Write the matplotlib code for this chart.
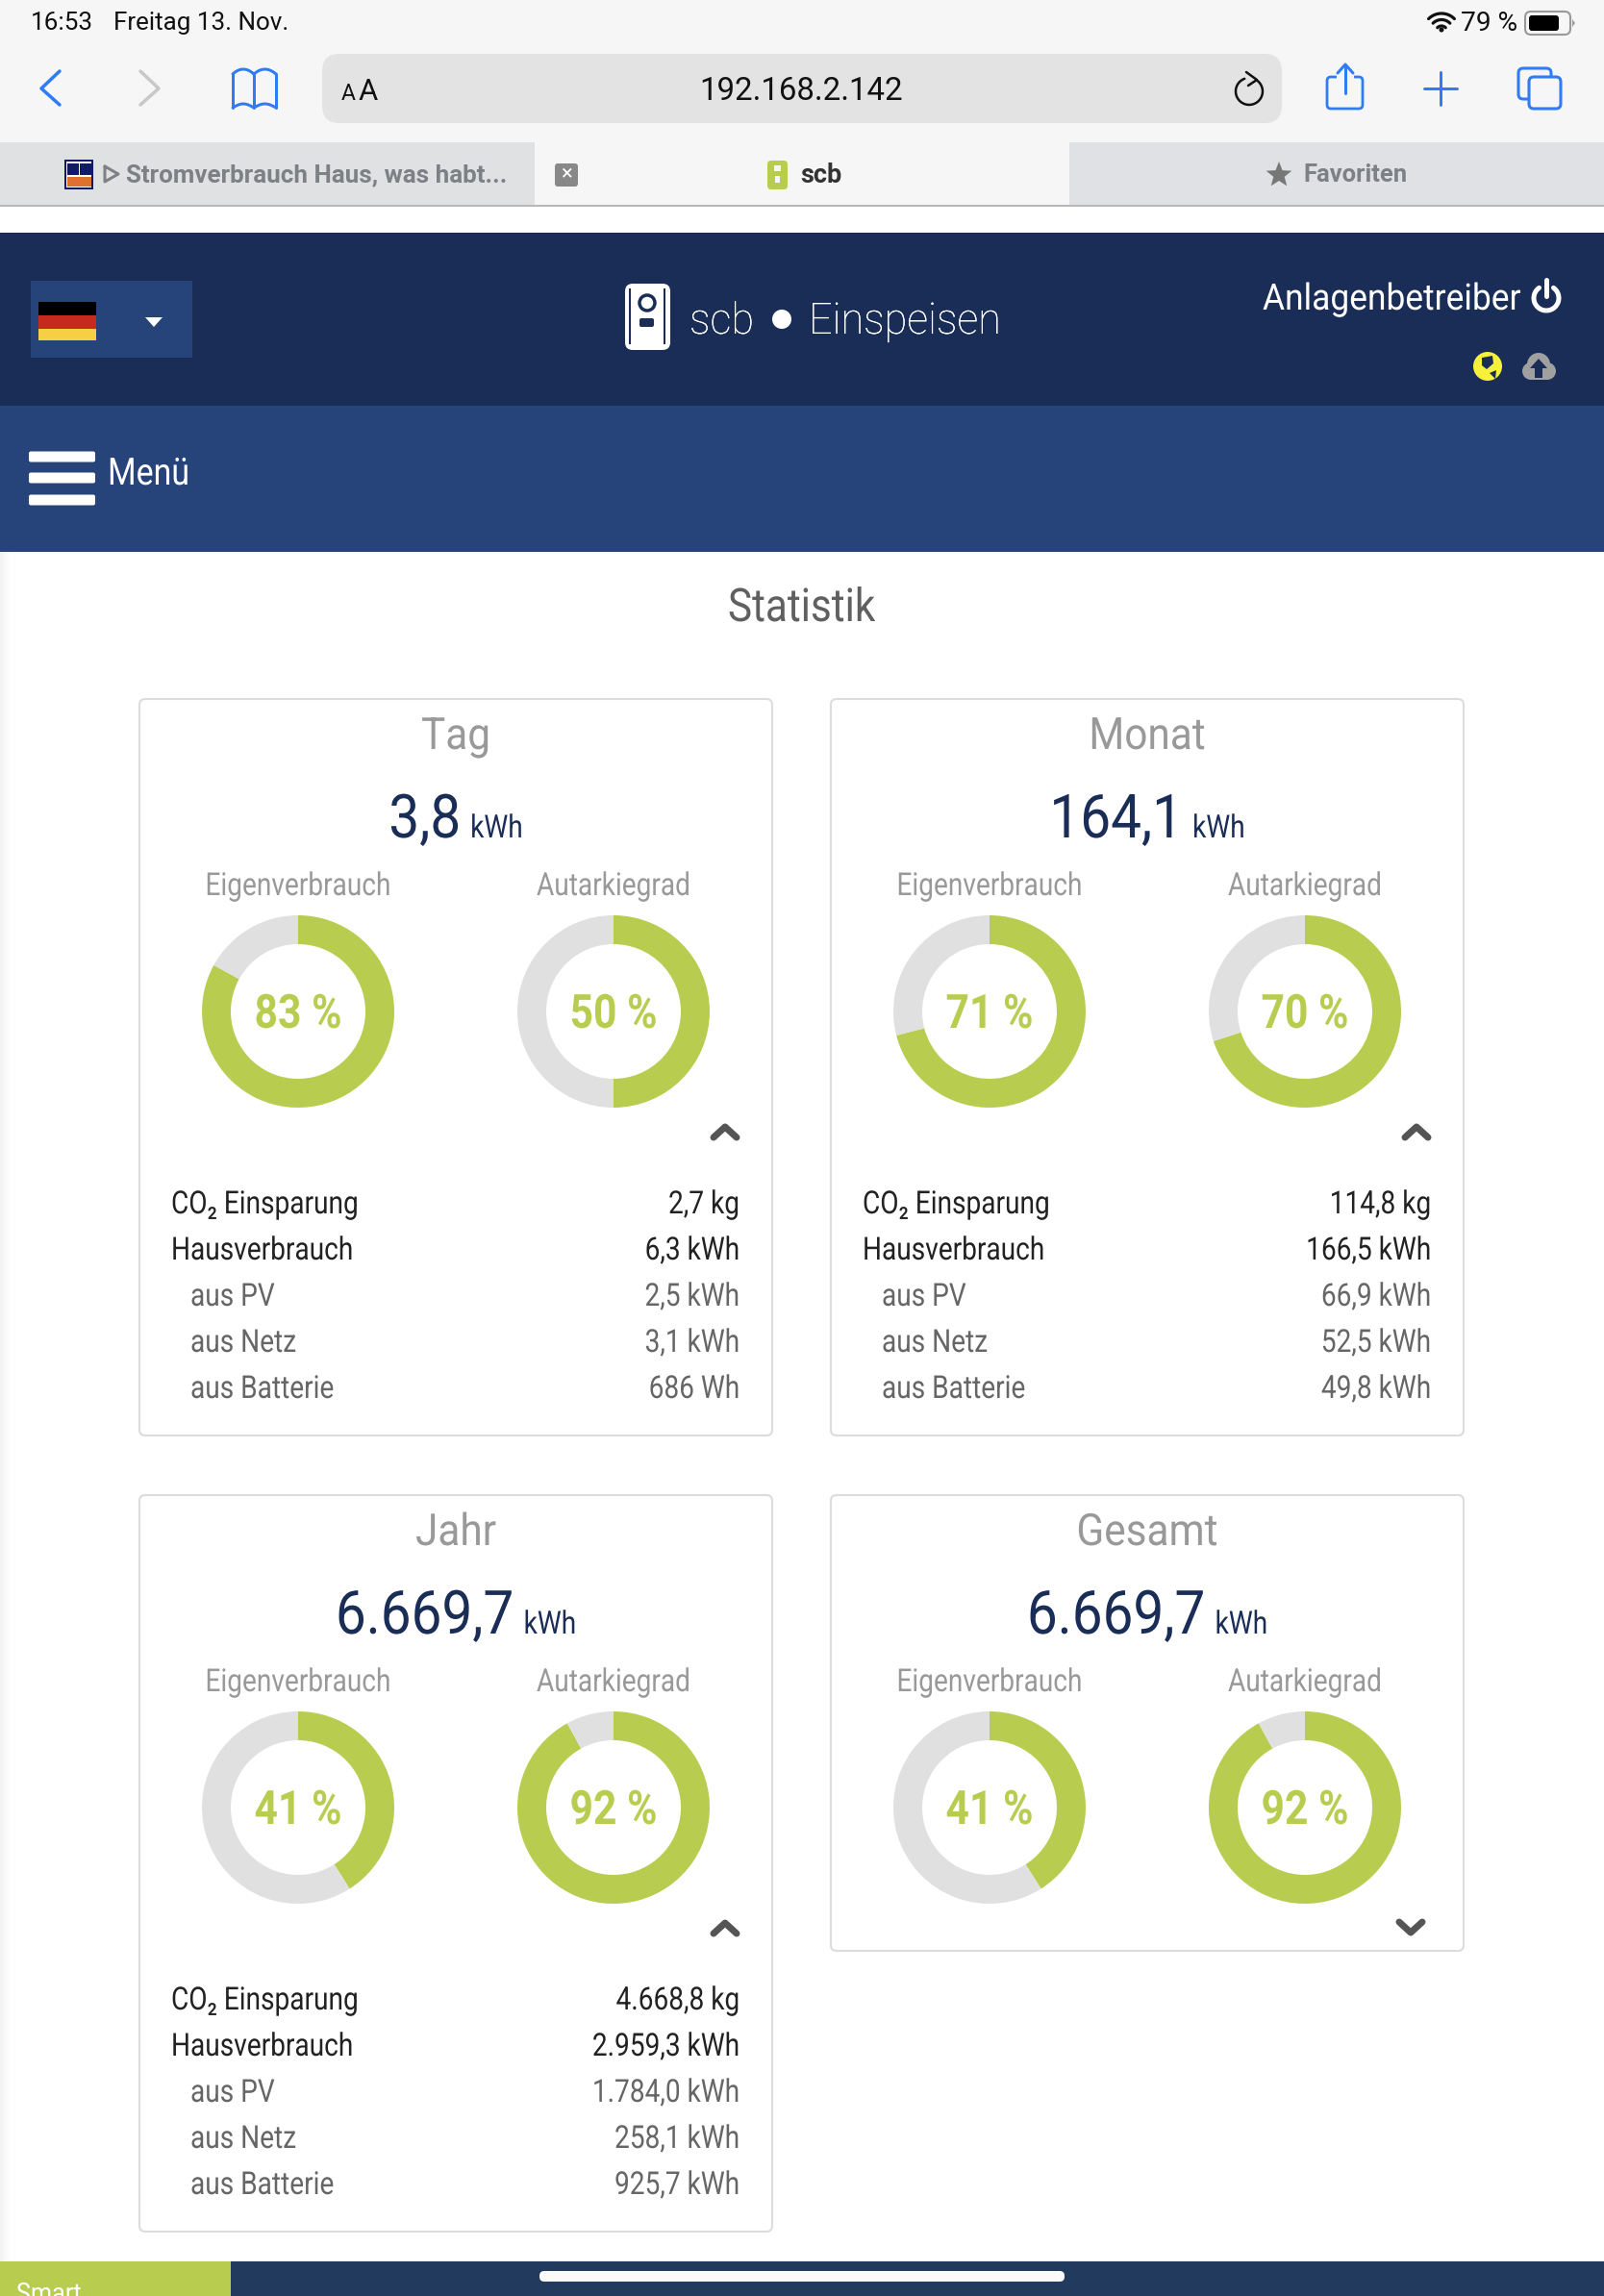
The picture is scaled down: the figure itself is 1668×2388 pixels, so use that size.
import numpy as np
import matplotlib
matplotlib.use("Agg")
import matplotlib.pyplot as plt
from matplotlib.patches import FancyBboxPatch, Rectangle, Circle, Polygon
from matplotlib.patheffects import AbstractPathEffect
from matplotlib.transforms import Affine2D

# Daten der vier Karten
titles = ["Tag", "Monat", "Jahr", "Gesamt"]
totals = ["3,8", "164,1", "6.669,7", "6.669,7"]
eigen = [83, 71, 41, 41]
autark = [50, 70, 92, 92]
row_labels = ["CO₂ Einsparung", "Hausverbrauch", "aus PV", "aus Netz", "aus Batterie"]
row_values = [
    ["2,7 kg", "6,3 kWh", "2,5 kWh", "3,1 kWh", "686 Wh"],
    ["114,8 kg", "166,5 kWh", "66,9 kWh", "52,5 kWh", "49,8 kWh"],
    ["4.668,8 kg", "2.959,3 kWh", "1.784,0 kWh", "258,1 kWh", "925,7 kWh"],
    [],
]
card_x = [145, 864, 145, 864]
card_y = [727, 727, 1555, 1555]
card_h = [766, 766, 766, 474]

W, H = 1668, 2388
ROBOTO = ["Roboto", "DejaVu Sans"]
GREEN = "#b8cd50"
RING = "#e0e0e0"
NAVY = "#1a2d57"
BLUE = "#26437a"
ICON = "#2f7cf6"
GRAY = "#999999"
DARK = "#222222"
MID = "#666666"
TAB = "#7d8085"

fig = plt.figure(figsize=(W / 100, H / 100), dpi=100)
ax = fig.add_axes([0, 0, 1, 1])
ax.set_xlim(0, W)
ax.set_ylim(H, 0)
ax.axis("off")


class Condense(AbstractPathEffect):
    # schmale Schrift: Roboto Condensed ist nicht installiert
    def __init__(self, sx, anchor):
        super().__init__()
        self.sx = sx
        self.anchor = anchor

    def draw_path(self, renderer, gc, tpath, affine, rgbFace=None):
        squeeze = Affine2D().translate(-self.anchor, 0).scale(self.sx, 1).translate(self.anchor, 0)
        renderer.draw_path(gc, tpath, affine + squeeze, rgbFace)


def px(size):
    return size * 0.72


def txt(x, y, s, size, color, ha="left", weight="normal", va="baseline", sx=None, twice=False):
    t = ax.text(x, y, s, fontsize=px(size), color=color, ha=ha, va=va,
                family=ROBOTO, fontweight=weight)
    if sx:
        # zweimal zeichnen macht die duenne Schrift heller
        t.set_path_effects([Condense(sx, x)] * (2 if twice else 1))
    return t


def rect(x0, y0, x1, y1, color, z=1):
    ax.add_patch(Rectangle((x0, y0), x1 - x0, y1 - y0, fc=color, ec="none", zorder=z))


def rbox(x0, y0, x1, y1, r, fc, ec="none", lw=0, z=1):
    ax.add_patch(FancyBboxPatch((x0, y0), x1 - x0, y1 - y0,
                                boxstyle=f"round,pad=0,rounding_size={r}",
                                fc=fc, ec=ec, lw=lw, zorder=z))


def line(xs, ys, color, lw, z=3):
    ax.plot(xs, ys, color=color, lw=px(lw), solid_capstyle="round",
            solid_joinstyle="round", zorder=z)


def arc(cx, cy, r, a0, a1, color, lw):
    t = np.radians(np.linspace(a0, a1, 40))
    line(cx + r * np.cos(t), cy + r * np.sin(t), color, lw)


def donut(cx, cy, value):
    a = fig.add_axes([(cx - 100) / W, 1 - (cy + 100) / H, 200 / W, 200 / H])
    a.pie([value, 100 - value], colors=[GREEN, RING], startangle=90,
          counterclock=False, radius=1.0, wedgeprops=dict(width=0.3))
    a.set_xlim(-1, 1)
    a.set_ylim(-1, 1)
    t = a.text(0, -0.17, f"{value} %", fontsize=px(49), color=GREEN, ha="center",
               va="baseline", family=ROBOTO, fontweight="bold")
    t.set_path_effects([Condense(0.87, cx)])


# Browser
rect(0, 0, W, 214, "#f6f6f6")
txt(32, 24, "16:53", 26, "#111111", va="center")
txt(118, 24, "Freitag 13. Nov.", 26, "#111111", va="center")
txt(1578, 24, "79 %", 28, "#111111", ha="right", va="center")
for r in [19, 12.5, 6]:
    arc(1499, 33, r, -135, -45, "#111111", 3.2)
ax.add_patch(Circle((1499, 31), 2.5, fc="#111111", ec="none", zorder=3))
rbox(1586, 12, 1633, 36, 6, "none", "#999999", 1.5, 3)
rbox(1590, 16, 1621, 32, 3, "#000000", z=3)
ax.add_patch(Polygon([[1635, 20], [1638, 24], [1635, 28]], fc="#999999", ec="none", zorder=3))

rbox(335, 56, 1333, 128, 18, "#e3e3e3")
txt(355, 104, "A", 23, "#111111")
txt(373, 104, "A", 31, "#111111")
txt(833, 95, "192.168.2.142", 33, "#111111", ha="center", va="center")
arc(1299, 95, 14, -55, 250, "#111111", 2.5)
line([1296, 1307, 1298], [75, 83, 89], "#111111", 2.5)

line([62, 43, 62], [74, 92, 109], ICON, 3.5)
line([146, 165, 146], [74, 92, 109], "#c8c8c8", 3.5)
# lesezeichen
bx = np.linspace(0, 1, 15)
for x0, x1 in [(264, 242), (264, 287)]:
    xs = x0 + (x1 - x0) * bx
    top = 72 + 5 * (2 * bx - 1) ** 2
    low = 112 - 4 * np.sin(np.pi * bx)
    line(xs, top, ICON, 3)
    line(xs, low, ICON, 3)
    line([x1, x1], [top[-1], low[-1]], ICON, 3)
line([264, 264], [76, 112], ICON, 3)
# teilen, plus, tabs
rbox(1380, 80, 1417, 113, 4, "none", ICON, 2, 3)
rect(1390, 77, 1408, 83, "#f6f6f6", 3.5)
line([1399, 1399], [68, 97], ICON, 3, z=4)
line([1391, 1399, 1407], [76, 67, 76], ICON, 3, z=4)
line([1481, 1515], [92, 92], ICON, 3)
line([1498, 1498], [75, 109], ICON, 3)
rbox(1579, 71, 1613, 103, 5, "#f6f6f6", ICON, 2.2, 3)
rbox(1590, 80, 1623, 113, 5, "#f6f6f6", ICON, 2.2, 3)

rect(0, 148, 556, 214, "#e0e1e3")
rect(1112, 148, W, 214, "#e0e1e5")
rect(0, 213, W, 215, "#b8b8b8", 2)
rect(67, 166, 97, 197, "#101a66")
rect(69, 168, 95, 195, "#ffffff", 1.1)
rect(70, 170, 82, 182, "#101a66", 1.2)
rect(83, 170, 95, 182, "#101a66", 1.2)
rect(70, 184, 95, 194, "#e07030", 1.2)
line([109, 109, 123, 109], [173, 189, 181, 173], TAB, 3)
txt(131, 182, "Stromverbrauch Haus, was habt...", 26, TAB, weight="bold", va="center")
rbox(577, 170, 601, 194, 3, "#888888")
txt(589, 182, "×", 22, "#ffffff", ha="center", va="center")
rbox(798, 167, 819, 197, 4, GREEN)
rect(805, 172, 812, 178, "#f6f6f6", 2)
rect(806, 183, 811, 190, "#f6f6f6", 2)
txt(832, 182, "scb", 27, "#333333", weight="bold", va="center")
theta = np.radians(np.arange(0, 360, 36) - 90)
radii = np.where(np.arange(10) % 2 == 0, 14, 6)
ax.add_patch(Polygon(np.c_[1330 + radii * np.cos(theta), 182 + radii * np.sin(theta)],
                     fc="#777777", ec="none", zorder=2))
txt(1355, 182, "Favoriten", 25.5, TAB, weight="bold", va="center")

# Kopfzeile
rect(0, 242, W, 422, NAVY)
rect(0, 422, W, 574, BLUE)
rect(32, 292, 200, 372, BLUE)
rect(40, 314, 100, 328, "#000000", 2)
rect(40, 328, 100, 342, "#c62a1e", 2)
rect(40, 342, 100, 354, "#f7cf45", 2)
ax.add_patch(Polygon([[151, 330], [169, 330], [160, 340]], fc="white", ec="none", zorder=2))
rbox(650, 295, 697, 364, 8, "white", z=2)
rect(654, 300, 656, 358, NAVY, 3)
rect(690, 300, 692, 358, NAVY, 3)
ax.add_patch(Circle((673, 315), 8, fc="white", ec=NAVY, lw=2.5, zorder=3))
rbox(665, 331, 680, 340, 2, NAVY, z=3)
txt(717, 347, "scb", 45, "white", weight="light", sx=0.96, twice=True)
ax.add_patch(Circle((813, 332), 10, fc="white", ec="none", zorder=2))
txt(841, 347, "Einspeisen", 45, "white", weight="light", sx=0.96, twice=True)
txt(1313, 322, "Anlagenbetreiber", 38, "white", sx=0.93)
arc(1608, 310, 13, -55, 235, "white", 5)
line([1608, 1608], [291, 308], "white", 5)
ax.add_patch(Circle((1547, 381), 15, fc="#f7f13c", ec="none", zorder=2))
ax.add_patch(Polygon([[1541, 372], [1552, 370], [1553, 378], [1546, 384], [1541, 380]],
                     fc=NAVY, ec="none", zorder=3))
ax.add_patch(Polygon([[1549, 388], [1556, 385], [1555, 394]], fc=NAVY, ec="none", zorder=3))
for cx, cy, r in [(1592, 386, 9), (1600, 379, 12), (1609, 386, 9)]:
    ax.add_patch(Circle((cx, cy), r, fc="#a0a0a0", ec="none", zorder=2))
rect(1592, 386, 1609, 395, "#a0a0a0", 2)
ax.add_patch(Polygon([[1600, 373], [1609, 383], [1604, 383], [1604, 393], [1596, 393],
                      [1596, 383], [1591, 383]], fc=NAVY, ec="none", zorder=3))
for y in [475, 497, 520]:
    rbox(30, y - 5.5, 99, y + 5.5, 2, "white", z=2)
txt(112, 504, "Menü", 39, "white", sx=0.87)
txt(757, 646, "Statistik", 48, "#606060", sx=0.88)

# Karten
for i in range(4):
    x0, y0, h = card_x[i], card_y[i], card_h[i]
    cx = x0 + 329
    rbox(x0, y0, x0 + 658, y0 + h, 6, "white", "#dcdcdc", 1.5)
    txt(cx, y0 + 52, titles[i], 46, GRAY, ha="center", sx=0.92)
    # Summe und Einheit nebeneinander, zusammen zentriert
    tot = txt(0, y0 + 144, totals[i], 63, NAVY, ha="right")
    uni = txt(0, y0 + 144, "kWh", 33, NAVY)
    fig.canvas.draw()
    w1 = tot.get_window_extent().width * 0.90
    w2 = uni.get_window_extent().width * 0.85
    split = cx - (w1 + 10 + w2) / 2 + w1
    tot.set_x(split)
    tot.set_path_effects([Condense(0.90, split)])
    uni.set_x(split + 10)
    uni.set_path_effects([Condense(0.85, split + 10)])
    txt(x0 + 165, y0 + 204, "Eigenverbrauch", 33, GRAY, ha="center", sx=0.85)
    txt(x0 + 493, y0 + 204, "Autarkiegrad", 33, GRAY, ha="center", sx=0.85)
    donut(x0 + 165, y0 + 325, eigen[i])
    donut(x0 + 493, y0 + 325, autark[i])
    if row_values[i]:
        line([x0 + 597, x0 + 609, x0 + 621], [y0 + 456, y0 + 445, y0 + 456], "#555555", 7)
        for j, lab in enumerate(row_labels):
            col = DARK if j < 2 else MID
            lx = x0 + 33 if j < 2 else x0 + 53
            ry = y0 + 535 + j * 48
            txt(lx, ry, lab, 33, col, sx=0.85)
            txt(x0 + 624, ry, row_values[i][j], 33, col, ha="right", sx=0.85)
    else:
        line([x0 + 591, x0 + 603, x0 + 615], [y0 + 444, y0 + 455, y0 + 444], "#555555", 7)

# Leiste unten
rect(0, 2352, 240, H, GREEN, 2)
rect(240, 2352, W, H, "#233a5f", 2)
rbox(561, 2362, 1107, 2373, 5, "#fafafa", z=3)
txt(17, 2394, "Smart", 28, "white", sx=0.9)
ax.imshow(np.linspace(0.95, 1.0, 12).reshape(1, -1), cmap="gray", vmin=0, vmax=1,
          extent=(0, 12, 2352, 574), aspect="auto", zorder=0.5)
ax.set_xlim(0, W)
ax.set_ylim(H, 0)

fig.savefig("out.png", dpi=100)
